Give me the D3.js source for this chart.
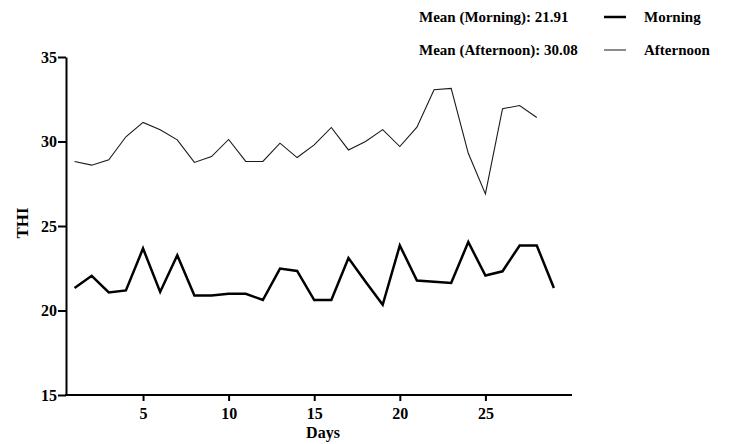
<!DOCTYPE html>
<html><head><meta charset="utf-8">
<script src="https://cdn.jsdelivr.net/npm/d3@7"></script>
<style>
body{margin:0;background:#fff;}
svg text{font-family:"Liberation Serif","Times New Roman",serif;font-weight:bold;fill:#000;}
</style></head>
<body><svg id="c" width="731" height="444"></svg>
<script>
const days = d3.range(1, 30);
const morning = [21.33,22.05,21.07,21.19,23.67,21.10,23.27,20.89,20.89,20.99,20.99,20.62,22.48,22.34,20.62,20.62,23.10,21.70,20.34,23.85,21.77,21.70,21.63,24.05,22.07,22.32,23.85,23.85,21.33];
const afternoon = [28.82,28.60,28.92,30.28,31.13,30.70,30.10,28.76,29.11,30.12,28.82,28.82,29.90,29.05,29.80,30.83,29.50,30.00,30.70,29.70,30.85,33.06,33.14,29.30,26.90,31.94,32.13,31.42];
const xTicks = [5,10,15,20,25];
const yTicks = [15,20,25,30,35];
const seriesNames = ["Morning","Afternoon"];
const meanLabels = ["Mean (Morning): 21.91","Mean (Afternoon): 30.08"];

const svg = d3.select("#c");
const x = d3.scaleLinear().domain([0.5, 30]).range([66, 571]);
const y = d3.scaleLinear().domain([15, 35]).range([395, 57]);

const xAxis = svg.append("g").attr("transform","translate(0,395)")
  .call(d3.axisBottom(x).tickValues(xTicks).tickSize(6).tickPadding(7).tickSizeOuter(0));
const yAxis = svg.append("g").attr("transform","translate(66,0)")
  .call(d3.axisLeft(y).tickValues(yTicks).tickSize(8).tickPadding(1).tickSizeOuter(0));
[xAxis,yAxis].forEach(a=>{
  a.selectAll("path.domain").attr("stroke","#000").attr("stroke-width",2);
  a.selectAll(".tick line").attr("stroke","#000").attr("stroke-width",2);
  a.selectAll(".tick text").style("font-size","16px").attr("fill","#000");
});
xAxis.select("path.domain").attr("d","M65,0H572");

const line = d3.line().x((d,i)=>x(days[i])).y(d=>y(d));
svg.append("path").datum(afternoon).attr("d",line).attr("fill","none").attr("stroke","#1a1a1a").attr("stroke-width",1.1);
svg.append("path").datum(morning).attr("d",line).attr("fill","none").attr("stroke","#000").attr("stroke-width",2.5).attr("stroke-linejoin","miter");

svg.append("text").attr("x",323).attr("y",438).attr("text-anchor","middle").style("font-size","16px").text("Days");
svg.append("text").attr("transform","translate(28,223) rotate(-90)").attr("text-anchor","middle").style("font-size","17px").text("THI");

const legY = [22, 55];
meanLabels.forEach((t,i)=>{
  svg.append("text").attr("x",419).attr("y",legY[i]).style("font-size","15px").text(t);
});
const legStroke = [{c:"#000",w:2.5},{c:"#666",w:1.5}];
seriesNames.forEach((n,i)=>{
  svg.append("line").attr("x1",604).attr("x2",626).attr("y1",legY[i]-5).attr("y2",legY[i]-5)
    .attr("stroke",legStroke[i].c).attr("stroke-width",legStroke[i].w);
  svg.append("text").attr("x",644).attr("y",legY[i]).style("font-size","15px").text(n);
});
</script></body></html>
